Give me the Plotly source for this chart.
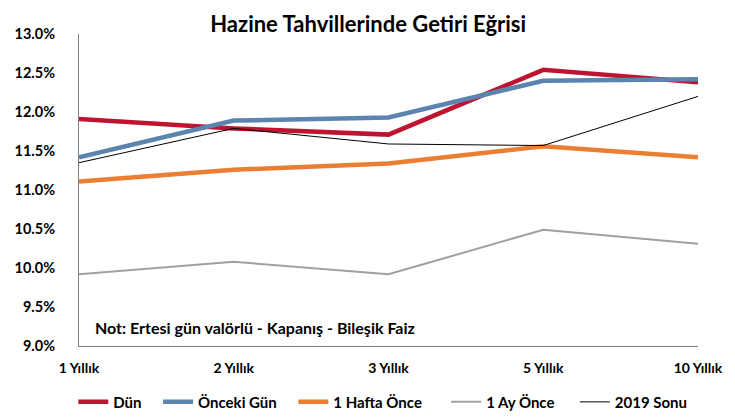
import plotly.graph_objects as go

# Vade kategorileri
vadeler = ['1 Yıllık', '2 Yıllık', '3 Yıllık', '5 Yıllık', '10 Yıllık']

# Getiri değerleri (%)
dun = [11.91, 11.79, 11.71, 12.54, 12.38]
onceki_gun = [11.42, 11.89, 11.93, 12.40, 12.42]
hafta_once = [11.11, 11.26, 11.34, 11.56, 11.42]
ay_once = [9.92, 10.08, 9.92, 10.49, 10.31]
sonu_2019 = [11.35, 11.79, 11.59, 11.57, 12.20]

y_ticks = [9.0, 9.5, 10.0, 10.5, 11.0, 11.5, 12.0, 12.5, 13.0]

x_pos = list(range(len(vadeler)))

# name, values, colour, width, extra legend spacing
series = [
    ('Dün', dun, '#BE1431', 4.5, 3),
    ('Önceki Gün', onceki_gun, '#5B84AE', 4.5, 3),
    ('1 Hafta Önce', hafta_once, '#EC7E32', 4.5, 5),
    ('1 Ay Önce', ay_once, '#A0A0A0', 2, 4),
    ('2019 Sonu', sonu_2019, '#000000', 1, 1),
]

fig = go.Figure()
for name, vals, color, width, pad in series:
    fig.add_trace(go.Scatter(
        x=x_pos, y=vals, mode='lines',
        name='<b>%s</b>%s' % (name, '\u00a0' * pad),
        line=dict(color=color, width=width)
    ))

font_family = 'Lato, Open Sans, sans-serif'

fig.update_layout(
    width=735,
    height=419,
    paper_bgcolor='white',
    plot_bgcolor='white',
    margin=dict(l=71, r=45, t=26, b=81),
    title=dict(
        text='<b>Hazine Tahvillerinde Getiri Eğrisi</b>',
        x=0.49, xanchor='center', y=0.962, yanchor='middle',
        font=dict(family=font_family, size=22, color='black')
    ),
    font=dict(family=font_family, size=13, color='black'),
    legend=dict(
        orientation='h',
        x=0.494, xanchor='center',
        yref='container',
        y=0.02, yanchor='bottom',
        font=dict(family=font_family, size=15, color='black'),
        itemwidth=30,
        tracegroupgap=0
    ),
    showlegend=True
)

fig.update_xaxes(
    range=[0, 4],
    tickvals=x_pos,
    ticktext=['<b>%s</b>' % v for v in vadeler],
    showgrid=False,
    zeroline=False,
    showline=True,
    linecolor='#808080',
    linewidth=1,
    ticks='outside',
    ticklen=9,
    tickcolor='rgba(0,0,0,0)',
    tickfont=dict(family=font_family, size=14, color='black'),
    automargin=False
)

fig.update_yaxes(
    range=[9.0, 13.0],
    tickvals=y_ticks,
    ticktext=['<b>%.1f%%</b>' % v for v in y_ticks],
    showgrid=False,
    zeroline=False,
    showline=True,
    linecolor='#808080',
    linewidth=1,
    ticks='outside',
    ticklen=20,
    tickcolor='rgba(0,0,0,0)',
    tickfont=dict(family=font_family, size=14.5, color='black'),
    automargin=False
)

fig.add_annotation(
    x=0.022, y=0.06, xref='paper', yref='paper',
    xanchor='left', yanchor='middle',
    text='<b>Not: Ertesi gün valörlü - Kapanış - Bileşik Faiz</b>',
    showarrow=False,
    font=dict(family=font_family, size=16, color='black')
)

fig.write_html('out.html')
